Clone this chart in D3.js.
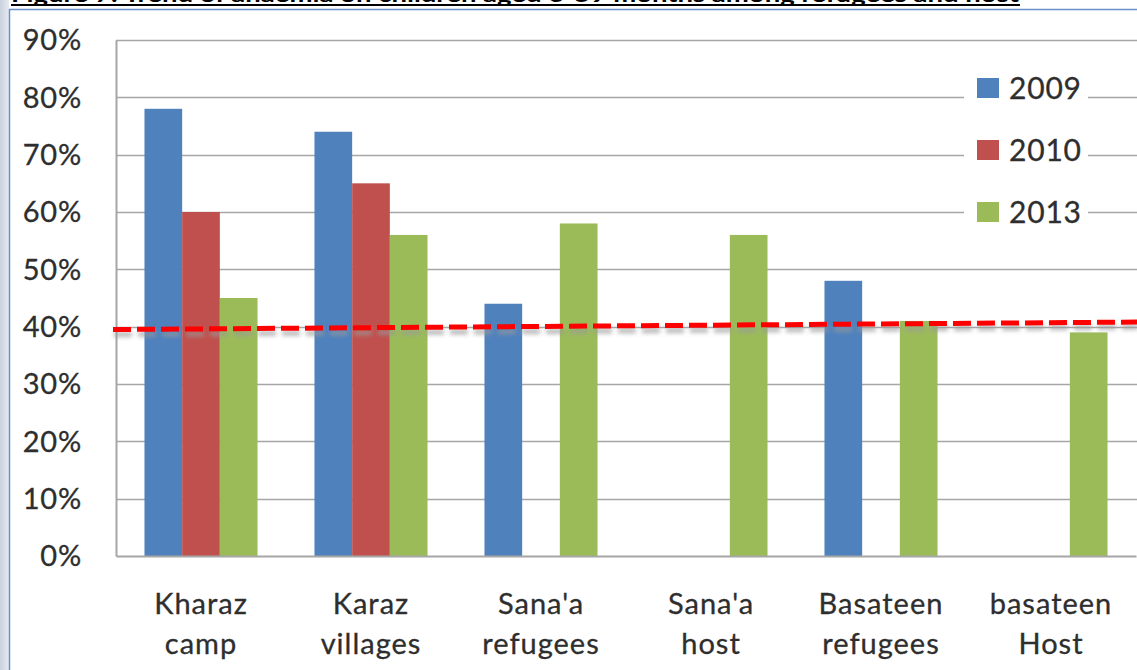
<!DOCTYPE html>
<html>
<head>
<meta charset="utf-8">
<script src="https://cdn.jsdelivr.net/npm/d3@7"></script>
<style>
  html, body { margin: 0; padding: 0; background: #fff; }
  svg { display: block; }
</style>
</head>
<body>
<svg id="chart" width="1137" height="670"></svg>
<script>
// ---- data ----
const categories = [
  ["Kharaz", "camp"],
  ["Karaz", "villages"],
  ["Sana'a", "refugees"],
  ["Sana'a", "host"],
  ["Basateen", "refugees"],
  ["basateen", "Host"]
];
const seriesNames = ["2009", "2010", "2013"];
const values2009 = [0.78, 0.74, 0.44, null, 0.48, null];
const values2010 = [0.60, 0.65, null, null, null, null];
const values2013 = [0.45, 0.56, 0.58, 0.56, 0.41, 0.39];
const seriesColors = ["#4F81BD", "#C0504D", "#9BBB59"];
const yTicks = [0, 0.1, 0.2, 0.3, 0.4, 0.5, 0.6, 0.7, 0.8, 0.9];
const thresholdStart = 0.395;
const thresholdEnd = 0.408;
const titleText = "Figure 7: Trend of anaemia on children aged 6-59 months among refugees and host";

const seriesValues = [values2009, values2010, values2013];

(function () {
const svg = d3.select("#chart");
const W = 1137, H = 670;
const font = "Lato, 'Open Sans', 'DejaVu Sans', sans-serif";
const textCol = "#2e2e2e";

// page background / frame
const defs = svg.append("defs");
const grad = defs.append("linearGradient").attr("id", "strip").attr("x1", 0).attr("x2", 1);
grad.append("stop").attr("offset", 0).attr("stop-color", "#c9d1de");
grad.append("stop").attr("offset", 1).attr("stop-color", "#e6eaf1");
svg.append("rect").attr("x", 0).attr("y", 0).attr("width", W).attr("height", H).attr("fill", "#fff");
svg.append("rect").attr("x", 0).attr("y", 0).attr("width", 9).attr("height", H).attr("fill", "url(#strip)");
svg.append("line").attr("x1", 9.5).attr("x2", 9.5).attr("y1", 9).attr("y2", H).attr("stroke", "#6d8fc8").attr("stroke-width", 1.5);
svg.append("line").attr("x1", 9).attr("x2", W).attr("y1", 9.5).attr("y2", 9.5).attr("stroke", "#6d8fc8").attr("stroke-width", 1.5);

// title (cut off at the top, as in the source image)
svg.append("text")
  .attr("x", 11).attr("y", 2)
  .attr("font-family", "Lato, 'Open Sans', sans-serif")
  .attr("font-weight", "bold")
  .attr("font-size", 21)
  .attr("fill", "#000")
  .attr("textLength", 1008)
  .attr("lengthAdjust", "spacingAndGlyphs")
  .text(titleText);
svg.append("line").attr("x1", 11).attr("x2", 1020).attr("y1", 5).attr("y2", 5).attr("stroke", "#000").attr("stroke-width", 2);

// scales
const pLeft = 116, pRight = 1136, pTop = 40, pBottom = 556;
const y = d3.scaleLinear().domain([0, 0.9]).range([pBottom, pTop]);
const x0 = d3.scaleBand().domain(d3.range(categories.length)).range([pLeft, pRight])
  .paddingInner(0.335).paddingOuter(0.1675);
const x1 = d3.scaleBand().domain(d3.range(seriesNames.length)).range([0, x0.bandwidth()]);

// gridlines
svg.append("g").selectAll("line").data(yTicks.slice(1)).join("line")
  .attr("x1", pLeft).attr("x2", W)
  .attr("y1", d => Math.round(y(d)) + 0.5).attr("y2", d => Math.round(y(d)) + 0.5)
  .attr("stroke", "#a6a6a6").attr("stroke-width", 1.5);

// y axis
const yAxis = d3.axisLeft(y).tickValues(yTicks).tickFormat(d3.format(".0%")).tickSize(0).tickPadding(34);
const gy = svg.append("g").attr("transform", `translate(${pLeft},0)`).call(yAxis);
gy.select(".domain").attr("stroke", "#a6a6a6").attr("stroke-width", 2);
gy.selectAll("text").attr("font-family", font).attr("font-size", 29).attr("fill", textCol)
  .attr("letter-spacing", 0.8).attr("stroke", textCol).attr("stroke-width", 0.3)
  .attr("dy", "0.34em");

// bars
const rows = [];
categories.forEach((c, i) => {
  seriesValues.forEach((vals, s) => {
    if (vals[i] != null) rows.push({ i, s, v: vals[i] });
  });
});
svg.append("g").selectAll("rect").data(rows).join("rect")
  .attr("x", d => x0(d.i) + x1(d.s))
  .attr("width", x1.bandwidth())
  .attr("y", d => y(d.v))
  .attr("height", d => y(0) - y(d.v))
  .attr("fill", d => seriesColors[d.s]);

// x axis
const xAxis = d3.axisBottom(x0).tickSize(0).tickFormat(() => "");
const gx = svg.append("g").attr("transform", `translate(0,${pBottom})`).call(xAxis);
gx.select(".domain").attr("stroke", "#a6a6a6").attr("stroke-width", 2);
gx.selectAll(".tick").each(function(d) {
  const t = d3.select(this).append("text")
    .attr("font-family", font).attr("font-size", 29).attr("fill", textCol)
    .attr("letter-spacing", 1).attr("stroke", textCol).attr("stroke-width", 0.3)
    .attr("text-anchor", "middle");
  t.append("tspan").attr("x", 0).attr("y", 58).text(categories[d][0]);
  t.append("tspan").attr("x", 0).attr("y", 98).text(categories[d][1]);
});

// legend
const legend = svg.append("g").attr("transform", "translate(964,66)");
legend.append("rect").attr("x", 0).attr("y", 0).attr("width", 124).attr("height", 170).attr("fill", "#fff");
const li = legend.selectAll("g").data(seriesNames).join("g")
  .attr("transform", (d, i) => `translate(13,${12 + i * 62})`);
li.append("rect").attr("width", 22).attr("height", 20).attr("fill", (d, i) => seriesColors[i]);
li.append("text").attr("x", 32).attr("y", 21)
  .attr("font-family", font).attr("font-size", 30).attr("fill", textCol)
  .attr("letter-spacing", 0.8).attr("stroke", textCol).attr("stroke-width", 0.3)
  .text(d => d);

// threshold dashed line with shadow
const shadow = defs.append("filter").attr("id", "blur").attr("x", "-5%").attr("y", "-200%").attr("width", "110%").attr("height", "500%");
shadow.append("feGaussianBlur").attr("stdDeviation", 2);
const thr = [{ x: pLeft - 3, v: thresholdStart }, { x: W, v: thresholdEnd }];
const line = d3.line().x(d => d.x).y(d => y(d.v));
svg.append("path").datum(thr).attr("d", line)
  .attr("transform", "translate(1,5)")
  .attr("fill", "none").attr("stroke", "#9a9a9a").attr("stroke-width", 5)
  .attr("stroke-dasharray", "18,6").attr("opacity", 0.7).attr("filter", "url(#blur)");
svg.append("path").datum(thr).attr("d", line)
  .attr("fill", "none").attr("stroke", "#ff0000").attr("stroke-width", 5)
  .attr("stroke-dasharray", "18,6");
})();
</script>
</body>
</html>
